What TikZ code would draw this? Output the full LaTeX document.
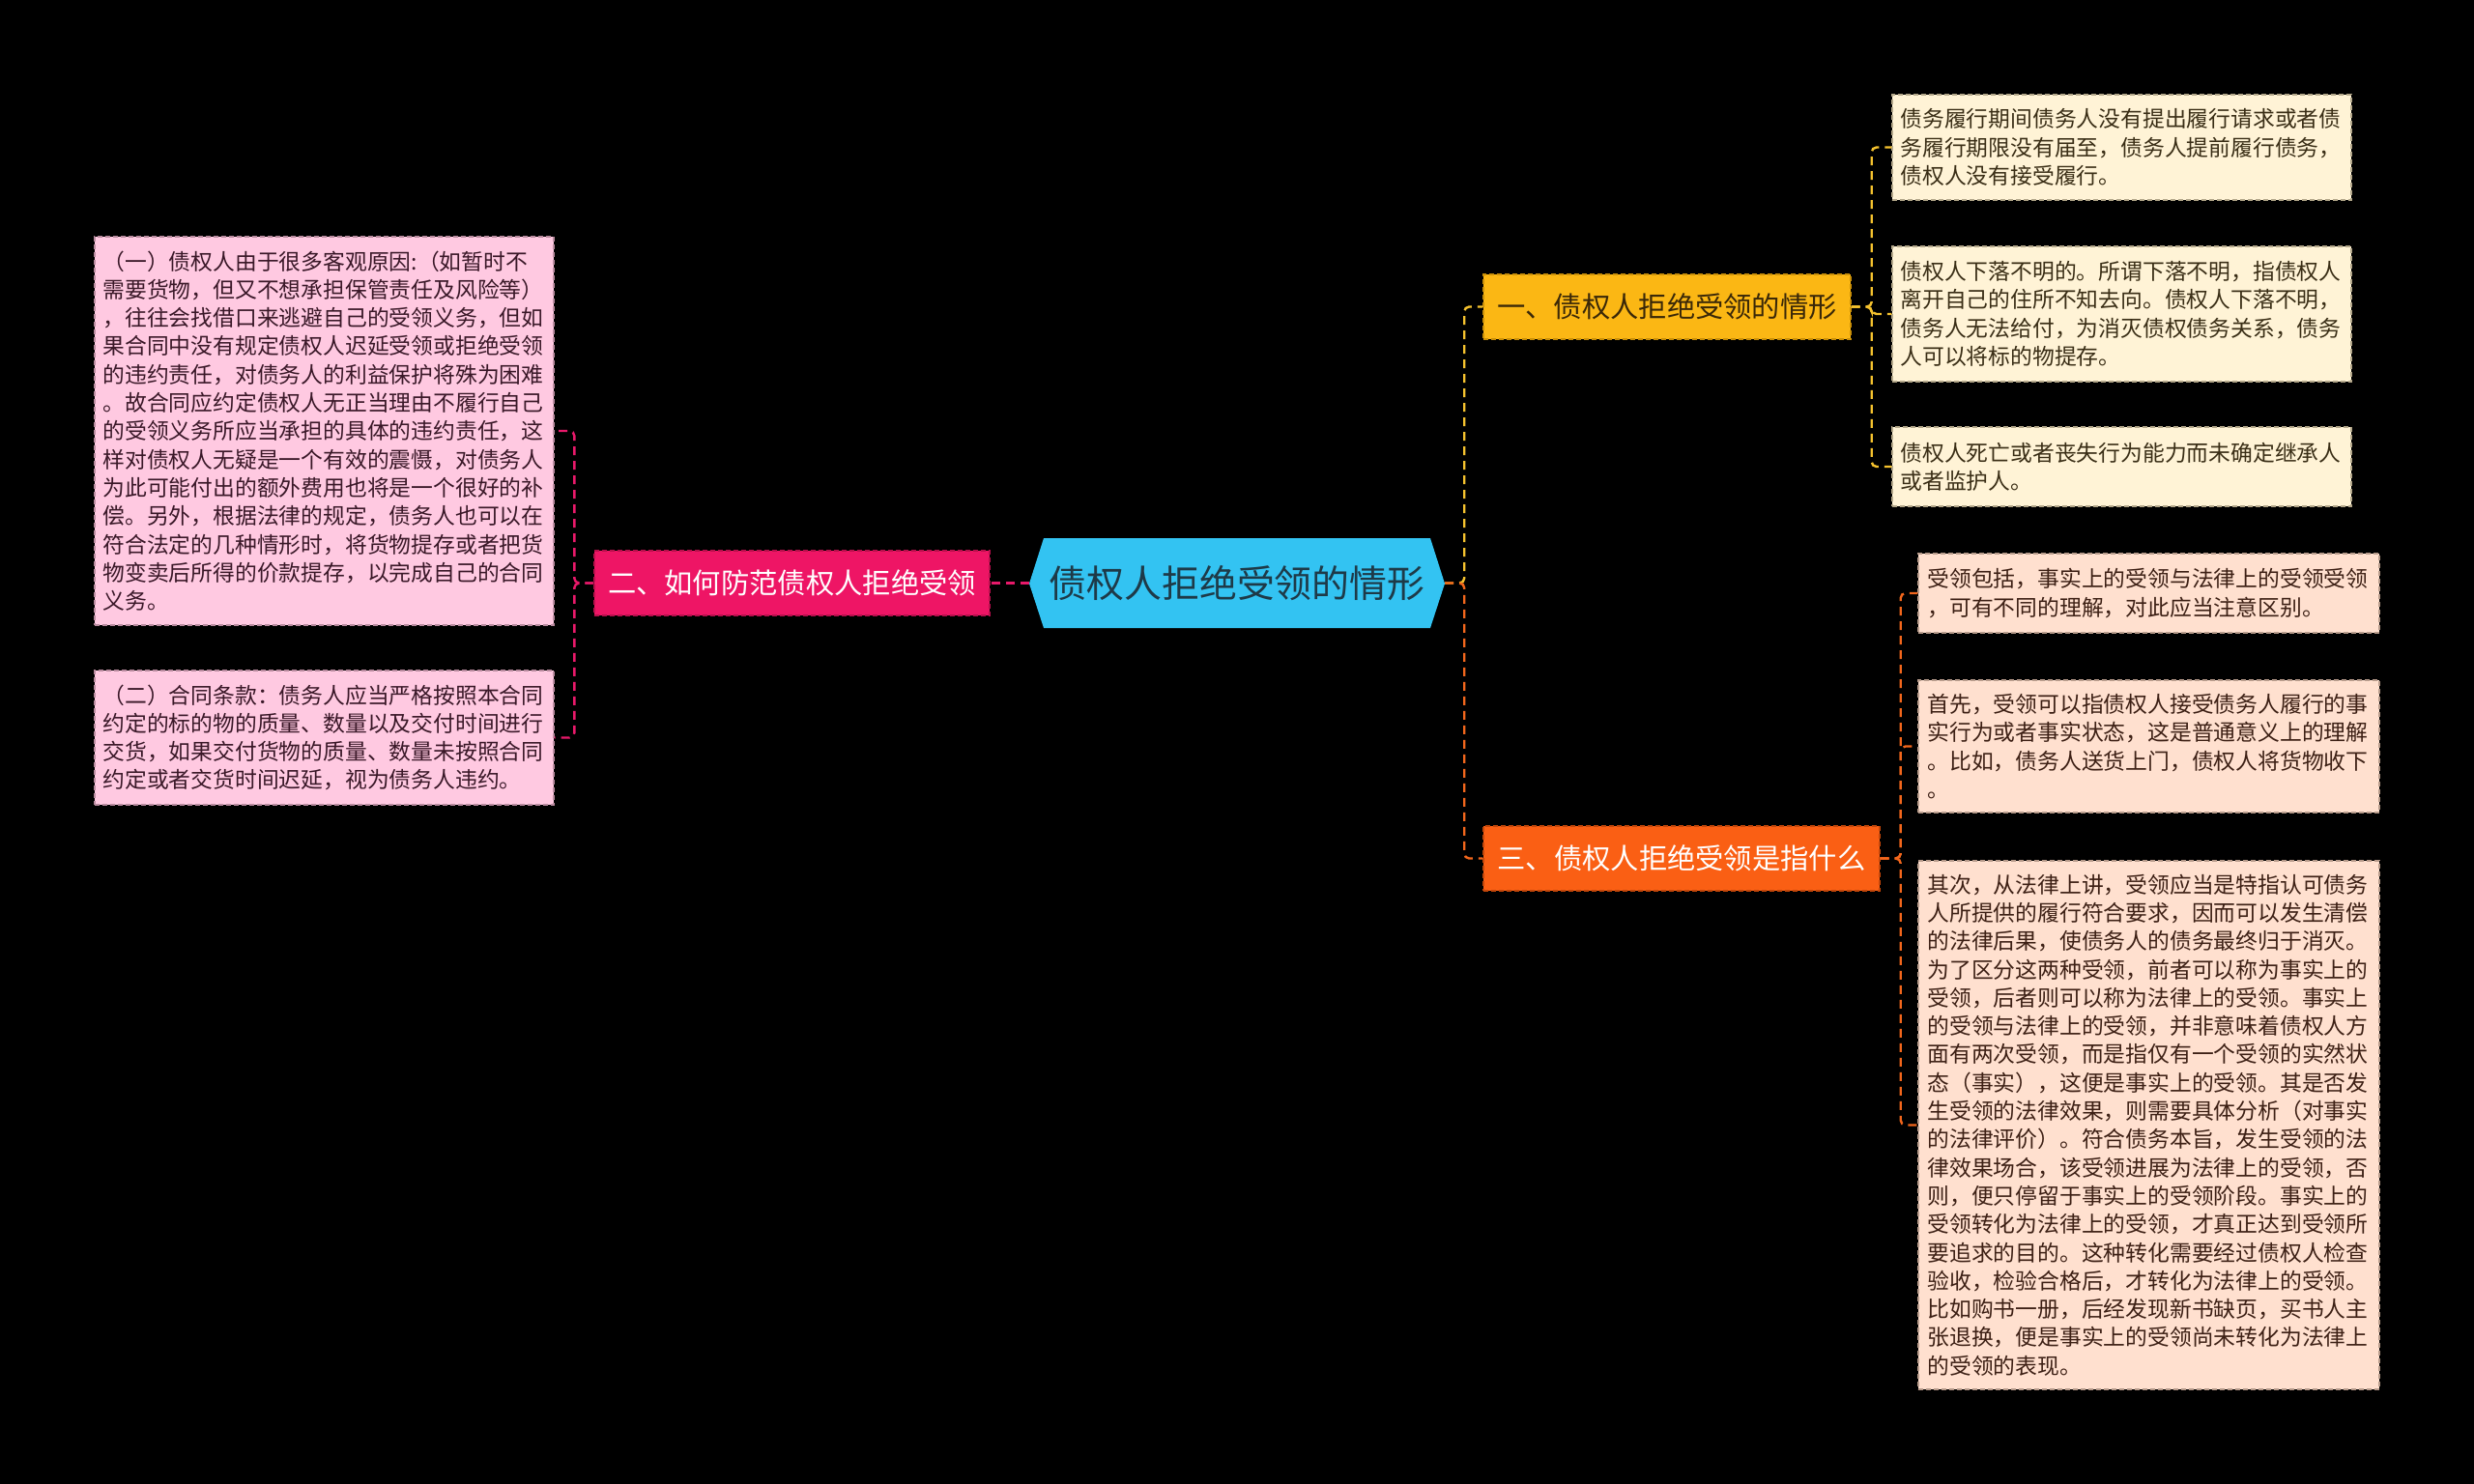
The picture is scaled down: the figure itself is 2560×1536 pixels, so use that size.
\documentclass[tikz,border=0pt]{standalone}
\usepackage{fontspec}
\setmainfont{Noto Sans CJK SC}
\definecolor{cblue}{HTML}{33C3F2}
\definecolor{ctext}{HTML}{1E3A48}
\definecolor{bpink}{HTML}{EE1565}
\definecolor{bpinkd}{HTML}{B80F4C}
\definecolor{bamber}{HTML}{FBB714}
\definecolor{bamberd}{HTML}{C98F08}
\definecolor{borange}{HTML}{FA5F14}
\definecolor{borangd}{HTML}{C2460A}
\definecolor{lpink}{HTML}{FFC9E1}
\definecolor{lpinkd}{HTML}{B88A9E}
\definecolor{lcream}{HTML}{FFF3D6}
\definecolor{lcreamd}{HTML}{B3A78A}
\definecolor{lpeach}{HTML}{FFE0CF}
\definecolor{lpeachd}{HTML}{B89C8C}
\definecolor{tpink}{HTML}{3A1828}
\definecolor{tcream}{HTML}{3A2E16}
\definecolor{tpeach}{HTML}{3D2015}
\definecolor{tamber}{HTML}{3A2808}
\definecolor{kpink}{HTML}{E8196A}
\definecolor{kyellow}{HTML}{F5C22E}
\definecolor{korange}{HTML}{F2661C}
\tikzset{
  conn/.style={line width=2.4pt, dash pattern=on 9pt off 6pt, rounded corners=5pt},
  branchbox/.style={draw, line width=1.4pt, dash pattern=on 5pt off 3pt, inner xsep=0pt, inner ysep=0pt,
    minimum height=67pt, font=\fontsize{29.3}{34}\selectfont},
  leafbox/.style={draw, line width=1.3pt, dash pattern=on 5pt off 3pt, inner xsep=8.5pt, inner ysep=0pt,
    text width=458pt, align=left, font=\fontsize{22.8}{29.3}\selectfont},
  pinkleaf/.style={leafbox, fill=lpink, draw=lpinkd, text=tpink},
  creamleaf/.style={leafbox, fill=lcream, draw=lcreamd, text=tcream},
  peachleaf/.style={leafbox, fill=lpeach, draw=lpeachd, text=tpeach, inner xsep=9.5pt}
}
\begin{document}
\begin{tikzpicture}[x=1pt,y=-1pt]
\fill[black] (0,0) rectangle (2560,1536);
\useasboundingbox (0,0) rectangle (2560,1536);

% central hexagon
\fill[cblue] (1065,604) -- (1080,557) -- (1480,557) -- (1495,604) -- (1480,650) -- (1080,650) -- cycle;
\node[inner sep=0pt, minimum width=430pt, minimum height=93pt, text=ctext, font=\fontsize{38.9}{44}\selectfont] (c) at (1280,603.5) {债权人拒绝受领的情形};

% branches
\node[branchbox, fill=bpink, draw=bpinkd, text=white, minimum width=409pt] (b2) at (819.5,603.5) {二、如何防范债权人拒绝受领};
\node[branchbox, fill=bamber, draw=bamberd, text=tamber, minimum width=380pt] (b1) at (1725,317.5) {一、债权人拒绝受领的情形};
\node[branchbox, fill=borange, draw=borangd, text=white, minimum width=410pt] (b3) at (1740,888.5) {三、债权人拒绝受领是指什么};

% left leaves
\node[pinkleaf, minimum height=402pt] (l1) at (335.5,446) {（一）债权人由于很多客观原因:（如暂时不\\需要货物，但又不想承担保管责任及风险等）\\，往往会找借口来逃避自己的受领义务，但如\\果合同中没有规定债权人迟延受领或拒绝受领\\的违约责任，对债务人的利益保护将殊为困难\\。故合同应约定债权人无正当理由不履行自己\\的受领义务所应当承担的具体的违约责任，这\\样对债权人无疑是一个有效的震慑，对债务人\\为此可能付出的额外费用也将是一个很好的补\\偿。另外，根据法律的规定，债务人也可以在\\符合法定的几种情形时，将货物提存或者把货\\物变卖后所得的价款提存，以完成自己的合同\\义务。};
\node[pinkleaf, minimum height=139pt] (l2) at (335.5,763.5) {（二）合同条款：债务人应当严格按照本合同\\约定的标的物的质量、数量以及交付时间进行\\交货，如果交付货物的质量、数量未按照合同\\约定或者交货时间迟延，视为债务人违约。};

% right top leaves
\node[creamleaf, minimum height=109pt] (y1) at (2195.5,152.5) {债务履行期间债务人没有提出履行请求或者债\\务履行期限没有届至，债务人提前履行债务，\\债权人没有接受履行。};
\node[creamleaf, minimum height=140pt] (y2) at (2195.5,325) {债权人下落不明的。所谓下落不明，指债权人\\离开自己的住所不知去向。债权人下落不明，\\债务人无法给付，为消灭债权债务关系，债务\\人可以将标的物提存。};
\node[creamleaf, minimum height=82pt] (y3) at (2195.5,483) {债权人死亡或者丧失行为能力而未确定继承人\\或者监护人。};

% right bottom leaves
\node[peachleaf, minimum height=82pt] (o1) at (2223.5,614) {受领包括，事实上的受领与法律上的受领受领\\，可有不同的理解，对此应当注意区别。};
\node[peachleaf, minimum height=137pt] (o2) at (2223.5,772.5) {首先，受领可以指债权人接受债务人履行的事\\实行为或者事实状态，这是普通意义上的理解\\。比如，债务人送货上门，债权人将货物收下\\。};
\node[peachleaf, minimum height=547pt] (o3) at (2223.5,1164.5) {其次，从法律上讲，受领应当是特指认可债务\\人所提供的履行符合要求，因而可以发生清偿\\的法律后果，使债务人的债务最终归于消灭。\\为了区分这两种受领，前者可以称为事实上的\\受领，后者则可以称为法律上的受领。事实上\\的受领与法律上的受领，并非意味着债权人方\\面有两次受领，而是指仅有一个受领的实然状\\态（事实），这便是事实上的受领。其是否发\\生受领的法律效果，则需要具体分析（对事实\\的法律评价）。符合债务本旨，发生受领的法\\律效果场合，该受领进展为法律上的受领，否\\则，便只停留于事实上的受领阶段。事实上的\\受领转化为法律上的受领，才真正达到受领所\\要追求的目的。这种转化需要经过债权人检查\\验收，检验合格后，才转化为法律上的受领。\\比如购书一册，后经发现新书缺页，买书人主\\张退换，便是事实上的受领尚未转化为法律上\\的受领的表现。};

% connectors
\draw[conn, kpink] (c.west) -- (b2.east);
\draw[conn, kyellow] (c.east) -- ++(20,0) |- (b1.west);
\draw[conn, korange] (c.east) -- ++(20,0) |- (b3.west);

\draw[conn, kpink] (b2.west) -- ++(-20,0) |- (l1.east);
\draw[conn, kpink] (b2.west) -- ++(-20,0) |- (l2.east);

\draw[conn, kyellow] (b1.east) -- ++(21,0) |- (y1.west);
\draw[conn, kyellow] (b1.east) -- ++(21,0) |- (y2.west);
\draw[conn, kyellow] (b1.east) -- ++(21,0) |- (y3.west);

\draw[conn, korange] (b3.east) -- ++(21,0) |- (o1.west);
\draw[conn, korange] (b3.east) -- ++(21,0) |- (o2.west);
\draw[conn, korange] (b3.east) -- ++(21,0) |- (o3.west);
\end{tikzpicture}
\end{document}
